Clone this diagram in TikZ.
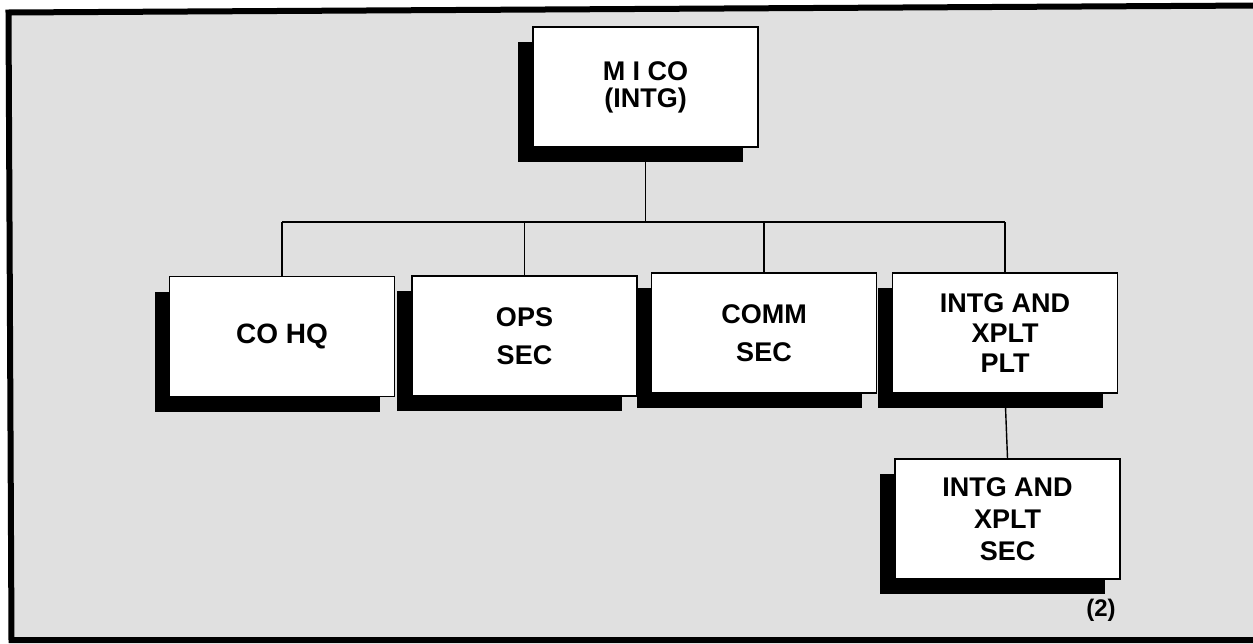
\documentclass[tikz,border=0pt]{standalone}
\usepackage{fontspec}
\setmainfont{Liberation Sans}
\usetikzlibrary{shadows}
\tikzset{
  unitbox/.style={draw, line width=1.5pt, fill=white, minimum width=225pt, minimum height=120pt,
    inner sep=0pt, align=center,
    drop shadow={shadow xshift=-15pt, shadow yshift=-15pt, fill=black, opacity=1, draw=none}},
  conn/.style={line width=1.4pt},
  frameline/.style={line width=6pt, line join=miter},
}
\begin{document}
\begin{tikzpicture}[x=1pt,y=-1pt]
\useasboundingbox (0,0) rectangle (1253,643);
\clip (0,0) rectangle (1253,643);
% background halftone
\fill[black!12] (8.5,12.5) -- (1260,5.5) -- (1260,640) -- (11.5,640) -- cycle;
% frame
\draw[frameline] (1260,5.5) -- (8.5,12.5) -- (11.5,640) -- (1260,640);
% nodes
\node[unitbox, font=\bfseries\fontsize{27}{27}\selectfont] (mico) at (645.5,87) {M I CO\\(INTG)};
\node[unitbox, font=\bfseries\fontsize{28}{30}\selectfont] (cohq) at (282,336.5) {CO HQ};
\node[unitbox, font=\bfseries\fontsize{27}{38}\selectfont] (ops) at (524.5,336) {OPS\\SEC};
\node[unitbox, font=\bfseries\fontsize{27}{38}\selectfont] (comm) at (764,333) {COMM\\SEC};
\node[unitbox, font=\bfseries\fontsize{27}{30}\selectfont] (plt) at (1005,333) {INTG AND\\XPLT\\PLT};
\node[unitbox, font=\bfseries\fontsize{27}{32}\selectfont] (sec) at (1007.5,519) {INTG AND\\XPLT\\SEC};
\node[font=\bfseries\fontsize{24}{26}\selectfont, inner sep=0pt] (num) at (1101,610) {(2)};
% connectors
\coordinate (bus) at (645.5,222);
\draw[conn] (mico.south) -- (bus);
\draw[conn] (bus -| cohq.north) -- (bus -| plt.north);
\draw[conn] (bus -| cohq.north) -- (cohq.north);
\draw[conn] (bus -| ops.north) -- (ops.north);
\draw[conn] (bus -| comm.north) -- (comm.north);
\draw[conn] (bus -| plt.north) -- (plt.north);
\draw[conn] (plt.south) -- (sec.north);
\end{tikzpicture}
\end{document}
